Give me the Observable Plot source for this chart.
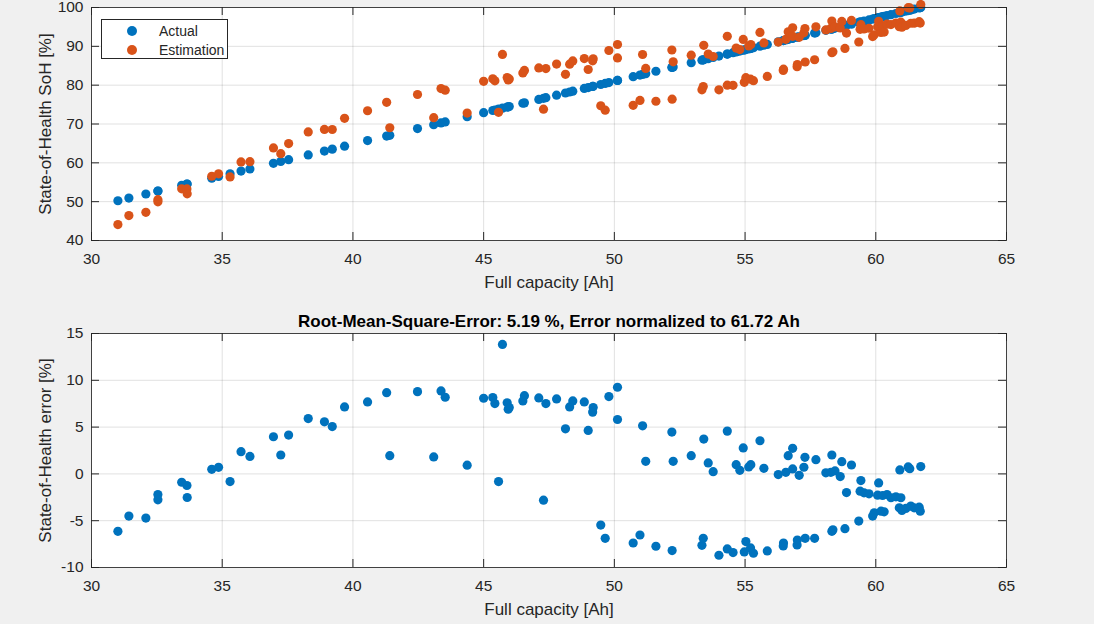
<!DOCTYPE html>
<html>
<head>
<meta charset="utf-8">
<script src="https://cdn.jsdelivr.net/npm/d3@7"></script>
<script src="https://cdn.jsdelivr.net/npm/@observablehq/plot@0.6"></script>
<style>
  html, body { margin: 0; padding: 0; background: #f0f0f0; }
  #fig { position: relative; width: 1094px; height: 624px; background: #f0f0f0; overflow: hidden;
         font-family: "Liberation Sans", Arial, sans-serif; color: #262626; }
  #fig svg { display: block; overflow: visible; }
  .legend { position: absolute; left: 101px; top: 19px; width: 127px; height: 40px; background: #fff;
            border: 1px solid #262626; box-sizing: border-box; font-size: 14px; }
  .legend .item { position: absolute; left: 0; height: 16px; line-height: 16px; }
  .legend .swatch { position: absolute; left: 24.5px; top: 3px; width: 10px; height: 10px; border-radius: 50%; }
  .legend .name { position: absolute; left: 57px; top: 0; white-space: nowrap; }
</style>
</head>
<body>
<div id="fig"></div>
<script>
// Full capacity of each measured cell [Ah]
const capacity = [31.01,31.43,32.08,32.54,32.54,33.45,33.65,33.66,34.60,34.86,35.30,35.72,36.06,36.96,37.24,37.54,38.29,38.91,39.21,39.68,40.56,41.29,41.41,42.47,43.09,43.37,43.53,44.37,45.00,45.35,45.43,45.57,45.72,45.90,45.98,45.94,46.50,46.56,47.11,47.29,47.38,47.79,48.13,48.29,48.41,48.85,49.00,49.17,49.19,49.48,49.65,49.79,50.12,50.12,50.72,50.98,51.08,51.20,51.59,52.20,52.25,52.21,52.94,53.35,53.40,53.42,53.59,53.78,54.00,54.32,54.32,54.54,54.66,54.80,54.93,54.97,55.03,55.14,55.22,55.21,55.32,55.57,55.72,55.85,56.27,56.46,56.47,56.56,56.65,56.82,56.82,56.99,57.00,57.07,57.25,57.29,57.30,57.66,57.71,58.09,58.28,58.32,58.32,58.36,58.44,58.64,58.70,58.82,58.88,59.07,59.35,59.40,59.43,59.55,59.74,59.88,59.94,60.07,60.11,60.20,60.26,60.32,60.43,60.58,60.77,60.90,60.92,60.96,61.00,61.15,61.24,61.30,61.34,61.47,61.66,61.70,61.72];

// Actual state of health [%]
const actualSoH = [50.24,50.92,51.98,52.72,52.72,54.20,54.52,54.54,56.06,56.48,57.19,57.87,58.43,59.88,60.34,60.82,62.04,63.04,63.53,64.29,65.72,66.90,67.09,68.81,69.82,70.27,70.53,71.89,72.91,73.48,73.61,73.83,74.08,74.37,74.50,74.43,75.34,75.44,76.33,76.62,76.77,77.43,77.98,78.24,78.44,79.15,79.39,79.67,79.70,80.17,80.44,80.67,81.21,81.21,82.18,82.60,82.76,82.96,83.59,84.58,84.66,84.59,85.77,86.44,86.52,86.55,86.83,87.14,87.49,88.01,88.01,88.37,88.56,88.79,89.00,89.06,89.16,89.34,89.47,89.45,89.63,90.04,90.28,90.49,91.17,91.48,91.49,91.64,91.79,92.06,92.06,92.34,92.35,92.47,92.76,92.82,92.84,93.42,93.50,94.12,94.43,94.49,94.49,94.56,94.69,95.01,95.11,95.30,95.40,95.71,96.16,96.24,96.29,96.48,96.79,97.02,97.12,97.33,97.39,97.54,97.63,97.73,97.91,98.15,98.46,98.67,98.70,98.77,98.83,99.08,99.22,99.32,99.38,99.59,99.90,99.97,100.00];

// Estimated state of health [%]
const estimatedSoH = [44.10,46.41,47.26,50.52,49.95,53.31,53.28,52.02,56.55,57.18,56.37,60.24,60.30,63.85,62.36,64.97,67.95,68.60,68.59,71.45,73.41,75.58,69.04,77.60,71.63,79.13,78.72,72.82,80.99,81.63,81.12,73.01,87.91,81.96,81.59,81.34,83.14,83.80,84.45,73.81,84.28,85.44,82.80,85.40,86.24,86.84,84.03,86.27,86.79,74.70,73.56,88.93,90.47,87.02,74.80,76.07,87.90,84.30,75.86,89.05,86.00,76.40,87.72,78.81,79.64,90.27,88.00,87.38,78.80,92.58,79.99,79.96,89.55,89.17,91.77,80.72,81.93,90.08,90.46,81.54,81.15,93.58,90.88,82.26,91.10,83.78,84.11,91.81,93.74,94.79,92.59,84.75,85.29,92.32,93.47,94.59,85.96,86.54,95.02,94.23,94.60,96.51,88.35,88.58,95.01,94.72,96.42,89.45,93.41,96.66,91.12,94.39,95.58,94.46,94.66,92.51,92.97,95.06,96.43,93.56,95.32,93.68,95.71,95.60,96.01,95.05,99.12,96.22,94.93,95.39,99.96,99.88,95.94,95.97,96.35,95.99,100.78];

// Estimation error (estimated minus actual) [%]
const errorSoH = [-6.14,-4.51,-4.72,-2.20,-2.77,-0.89,-1.24,-2.52,0.49,0.70,-0.82,2.37,1.87,3.97,2.02,4.15,5.91,5.56,5.06,7.16,7.69,8.68,1.95,8.79,1.81,8.86,8.19,0.93,8.08,8.15,7.51,-0.82,13.83,7.59,7.09,6.91,7.80,8.36,8.12,-2.81,7.51,8.01,4.82,7.16,7.80,7.69,4.64,6.60,7.09,-5.47,-6.88,8.26,9.26,5.81,-7.38,-6.53,5.14,1.34,-7.73,4.47,1.34,-8.19,1.95,-7.63,-6.88,3.72,1.17,0.24,-8.69,4.57,-8.02,-8.41,0.99,0.38,2.77,-8.34,-7.23,0.74,0.99,-7.91,-8.48,3.54,0.60,-8.23,-0.07,-7.70,-7.38,0.17,1.95,2.73,0.53,-7.59,-7.06,-0.15,0.71,1.77,-6.88,-6.88,1.52,0.11,0.17,2.02,-6.14,-5.98,0.32,-0.29,1.31,-5.85,-1.99,0.95,-5.04,-1.85,-0.71,-2.02,-2.13,-4.51,-4.15,-2.27,-0.96,-3.98,-2.31,-4.05,-2.20,-2.55,-2.45,-3.62,0.42,-2.55,-3.90,-3.69,0.74,0.56,-3.44,-3.62,-3.55,-3.98,0.78];

// Axis ticks
const capacityTicks = [30, 35, 40, 45, 50, 55, 60, 65];
const sohTicks = [40, 50, 60, 70, 80, 90, 100];
const errorTicks = [-10, -5, 0, 5, 10, 15];

// Texts
const seriesNames = ["Actual", "Estimation"];
const xLabel = "Full capacity [Ah]";
const sohLabel = "State-of-Health SoH [%]";
const errorLabel = "State-of-Health error [%]";
const errorTitle = "Root-Mean-Square-Error: 5.19 %, Error normalized to 61.72 Ah";

const blue = "#0072BD", orange = "#D95319", ink = "#262626";
const rows = capacity.map((c, i) => ({cap: c, act: actualSoH[i], est: estimatedSoH[i], err: errorSoH[i]}));

const W = 1094, ML = 91, MR = 88, TICK = 8;

function panel({height, marginTop, marginBottom, yDomain, yTicks, dots, yLabel, title}) {
  const innerH = height - marginTop - marginBottom;
  const innerW = W - ML - MR;
  const marks = [
    Plot.frame({fill: "white"}),
    Plot.ruleX(capacityTicks, {stroke: "#000", strokeOpacity: 0.12}),
    Plot.ruleY(yTicks, {stroke: "#000", strokeOpacity: 0.12}),
    ...dots,
    // inward ticks on all four sides
    Plot.tickX(capacityTicks, {x: d => d, stroke: ink, insetTop: innerH - TICK}),
    Plot.tickX(capacityTicks, {x: d => d, stroke: ink, insetBottom: innerH - TICK}),
    Plot.tickY(yTicks, {y: d => d, stroke: ink, insetRight: innerW - TICK}),
    Plot.tickY(yTicks, {y: d => d, stroke: ink, insetLeft: innerW - TICK}),
    Plot.frame({stroke: ink, strokeOpacity: 0.85}),
    Plot.axisX({ticks: capacityTicks, tickSize: 0, tickPadding: 12, label: null, fontSize: 15.5, tickFormat: d => String(d)}),
    Plot.axisY({ticks: yTicks, tickSize: 0, tickPadding: 8, label: null, fontSize: 15.5, tickFormat: d => String(d)}),
    Plot.text([xLabel], {frameAnchor: "bottom", dy: 42, textAnchor: "middle", lineAnchor: "middle", text: d => d, fontSize: 17, fill: ink}),
    Plot.text([yLabel], {frameAnchor: "left", dx: -46, rotate: -90, textAnchor: "middle", lineAnchor: "middle", text: d => d, fontSize: 17, fill: ink})
  ];
  if (title) marks.push(Plot.text([title], {frameAnchor: "top", dy: -12, textAnchor: "middle", lineAnchor: "middle", text: d => d, fontSize: 17, fontWeight: "bold", fill: "#000"}));
  return Plot.plot({
    width: W, height, marginTop, marginBottom, marginLeft: ML, marginRight: MR,
    style: {background: "transparent", color: ink, fontFamily: "'Liberation Sans', Arial, sans-serif", fontSize: "15.5px", overflow: "visible"},
    x: {domain: [30, 65]},
    y: {domain: yDomain},
    marks
  });
}

const sohPanel = panel({
  height: 312, marginTop: 7, marginBottom: 72,
  yDomain: [40, 100], yTicks: sohTicks, yLabel: sohLabel,
  dots: [
    Plot.dot(rows, {x: "cap", y: "act", fill: blue, r: 4.6}),
    Plot.dot(rows, {x: "cap", y: "est", fill: orange, r: 4.6})
  ]
});

const errorPanel = panel({
  height: 312, marginTop: 21, marginBottom: 57,
  yDomain: [-10, 15], yTicks: errorTicks, yLabel: errorLabel, title: errorTitle,
  dots: [Plot.dot(rows, {x: "cap", y: "err", fill: blue, r: 4.6})]
});

const fig = document.getElementById("fig");
fig.append(sohPanel, errorPanel);

// legend for the upper panel
const legend = document.createElement("div");
legend.className = "legend";
[blue, orange].forEach((c, i) => {
  const item = document.createElement("div");
  item.className = "item";
  item.style.top = (3.3 + i * 19) + "px";
  item.innerHTML = `<span class="swatch" style="background:${c}"></span><span class="name">${seriesNames[i]}</span>`;
  legend.append(item);
});
fig.append(legend);
</script>
</body>
</html>
